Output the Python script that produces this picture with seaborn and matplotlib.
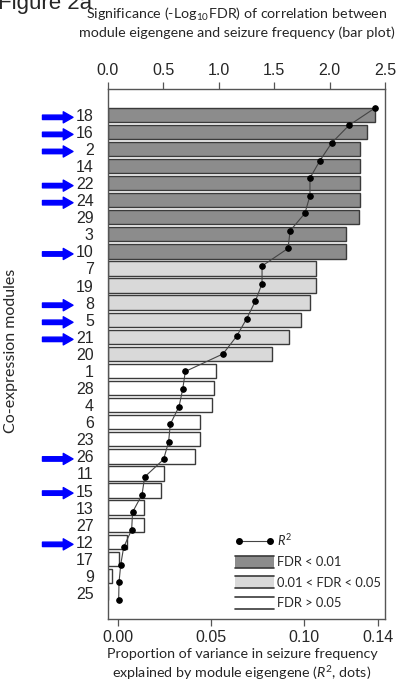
import numpy as np
import pandas as pd
import seaborn as sns
import matplotlib.pyplot as plt
from matplotlib.lines import Line2D
from matplotlib.patches import Patch, Rectangle
from matplotlib.legend_handler import HandlerPatch

# modules ordered top to bottom
modulos = ['18', '16', '2', '14', '22', '24', '29', '3', '10', '7', '19', '8', '5', '21', '20',
           '1', '28', '4', '6', '23', '26', '11', '15', '13', '27', '12', '17', '9', '25']

# -log10 FDR (bars, top axis)
significancia = [2.41, 2.34, 2.275, 2.275, 2.275, 2.275, 2.265, 2.145, 2.145, 1.878, 1.878, 1.824,
                 1.746, 1.632, 1.478, 0.976, 0.961, 0.940, 0.835, 0.830, 0.787, 0.508, 0.478,
                 0.330, 0.330, 0.177, 0.099, 0.039, 0.003]

# R^2 (dots, bottom axis)
r2 = [0.1384, 0.1242, 0.1149, 0.1086, 0.1032, 0.1032, 0.1005, 0.0925, 0.0914, 0.0774, 0.0774,
      0.0738, 0.0691, 0.0637, 0.0564, 0.0361, 0.0347, 0.0327, 0.0280, 0.0271, 0.0244, 0.0142,
      0.0128, 0.0077, 0.0072, 0.0029, 0.0013, 0.0004, 0.0002]

classe_fdr = ['FDR < 0.01'] * 9 + ['0.01 < FDR < 0.05'] * 6 + ['FDR > 0.05'] * 14

# modules marked with a blue arrow
destacados = ['18', '16', '2', '22', '24', '10', '8', '5', '21', '26', '15', '12']

cores = {'FDR < 0.01': '#8c8c8c', '0.01 < FDR < 0.05': '#d9d9d9', 'FDR > 0.05': '#ffffff'}
cor_borda = '#3a3a3a'

sns.set_theme(style='white')
plt.rcParams['font.family'] = ['Liberation Sans', 'DejaVu Sans']
plt.rcParams['mathtext.fontset'] = 'custom'
plt.rcParams['mathtext.rm'] = 'Lato'
plt.rcParams['mathtext.it'] = 'Lato:italic'

df = pd.DataFrame({'modulo': modulos, 'sig': significancia, 'r2': r2, 'classe': classe_fdr})
df['pos'] = np.arange(len(df))

fig = plt.figure(figsize=(4.07, 6.88), dpi=100)
pos_eixo = [0.2646, 0.1003, 0.6818, 0.7699]
ax = fig.add_axes(pos_eixo)

sns.barplot(data=df, y='modulo', x='sig', hue='classe', order=modulos, palette=cores,
            dodge=False, width=0.84, edgecolor=cor_borda, linewidth=1, legend=False, ax=ax)
ax.set_xlim(0, 2.5)
ax.set_ylim(29.52, -1.49)
ax.xaxis.tick_top()
ax.xaxis.set_label_position('top')
ax.set_xticks([0, 0.5, 1.0, 1.5, 2.0, 2.5])
ax.set_xticklabels(['0.0', '0.5', '1.0', '1.5', '2.0', '2.5'])
ax.tick_params(axis='x', top=True, bottom=False, direction='out', length=5, width=0.9,
               color='#555555', labelsize=11.5, pad=3)
ax.tick_params(axis='y', left=False, length=0, labelsize=11.5, pad=10)
ax.set_xlabel('Significance (-Log$_{10}$FDR) of correlation between\n'
              'module eigengene and seizure frequency (bar plot)',
              fontsize=10.3, family='Lato', linespacing=1.3)
ax.xaxis.set_label_coords(0.466, 1.126)
ax.xaxis.label.set_va('center')
ax.set_ylabel('Co-expression modules', fontsize=11.5, family='Lato')
ax.yaxis.set_label_coords(-0.3235, 0.506)
for sp in ax.spines.values():
    sp.set_color('#555555')
    sp.set_linewidth(1)

# blue arrows
for m in destacados:
    y = modulos.index(m)
    ax.annotate('', xy=(-0.125, y + 0.15), xytext=(-0.235, y + 0.15),
                xycoords=('axes fraction', 'data'), annotation_clip=False,
                arrowprops=dict(arrowstyle='simple,head_length=0.7,head_width=0.8,tail_width=0.32',
                                mutation_scale=10, color='#0000ff', shrinkA=0, shrinkB=0))

# dots axis (own vertical scale)
ax2 = fig.add_axes(pos_eixo)
ax2.patch.set_visible(False)
sns.lineplot(data=df, x='r2', y='pos', sort=False, estimator=None, color='#444444',
             linewidth=0.8, marker='o', markersize=4, markerfacecolor='black',
             markeredgecolor='black', ax=ax2)
ax2.set_xlim(-0.0057, 0.1437)
ax2.set_ylim(29.08, -1.05)
ax2.set_yticks([])
ax2.set_ylabel('')
ax2.set_xticks([0, 0.05, 0.10, 0.14])
ax2.set_xticklabels(['0.00', '0.05', '0.10', '0.14'])
ax2.tick_params(axis='x', bottom=True, direction='out', length=5, width=0.9,
                color='#555555', labelsize=11.5, pad=3)
ax2.set_xlabel('Proportion of variance in seizure frequency\n'
               'explained by module eigengene ($R^2$, dots)',
               fontsize=10.3, family='Lato', linespacing=1.3)
ax2.xaxis.set_label_coords(0.484, -0.087)
ax2.xaxis.label.set_va('center')
for sp in ax2.spines.values():
    sp.set_visible(False)


class HandlerTopBottom(HandlerPatch):
    # filled box with only top and bottom edges
    def create_artists(self, legend, orig_handle, xdescent, ydescent, width, height, fontsize, trans):
        x0, y0 = -xdescent, -ydescent
        rect = Rectangle((x0, y0), width, height, facecolor=orig_handle.get_facecolor(),
                         edgecolor='none', transform=trans)
        topo = Line2D([x0, x0 + width], [y0 + height] * 2, color=cor_borda, lw=1.2, transform=trans)
        base = Line2D([x0, x0 + width], [y0, y0], color=cor_borda, lw=1.2, transform=trans)
        return [rect, topo, base]


handles = [Line2D([], [], color='#444444', lw=0.8, marker='o', markersize=4,
                  markerfacecolor='black', markeredgecolor='black')]
labels = ['$R^2$']
for k, c in cores.items():
    handles.append(Patch(facecolor=c))
    labels.append(k)

ax2.legend(handles, labels, loc='lower left', bbox_to_anchor=(0.459, 0.019), frameon=False,
           borderpad=0, borderaxespad=0, handlelength=3.0, handleheight=1.05, numpoints=2,
           labelspacing=0.62, handletextpad=0.25, prop={'family': 'Lato', 'size': 9.3},
           handler_map={Patch: HandlerTopBottom()})

fig.text(-0.005, 1 - 9 / 688, 'Figure 2a', fontsize=16, ha='left', va='baseline')

fig.savefig('out.png', dpi=100)
